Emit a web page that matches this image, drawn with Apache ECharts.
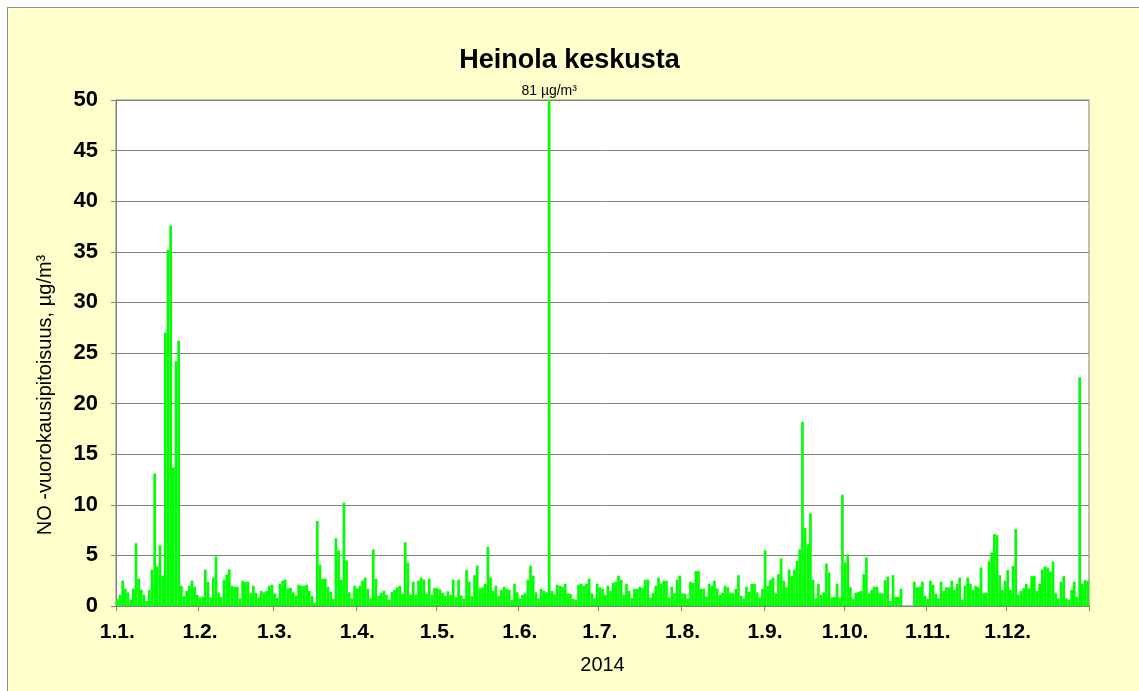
<!DOCTYPE html>
<html><head><meta charset="utf-8">
<script src="https://cdn.jsdelivr.net/npm/echarts@6/dist/echarts.min.js"></script>
<style>
html,body{margin:0;padding:0;background:#fff;overflow:hidden;}
#panel{position:absolute;left:7px;top:7px;width:1140px;height:690px;background:#FFFFCC;border:1px solid #8c8c8c;}
#chart{position:absolute;left:0;top:0;width:1139px;height:691px;}
</style></head><body>
<div id="panel"></div><div id="chart"></div>
<script>
// Daily NO concentrations (µg/m³), Heinola keskusta 2014
const jan = [0.7,1.1,2.5,1.7,1.35,0.6,1.7,6.2,2.7,1.6,1.1,0.5,1.6,3.6,13.1,3.9,6.0,3.0,27.0,35.2,37.6,13.7,24.2,26.2,2.0,1.0,1.5,2.0,2.5,1.9,1.1];
const feb = [0.85,0.9,3.6,2.4,0.85,2.8,4.9,1.3,0.9,2.6,3.1,3.6,2.0,1.9,1.9,0.75,2.5,2.4,2.4,1.25,2.0,1.3,0.85,1.5,1.35,1.5,2.0,2.1];
const mar = [1.25,0.8,2.2,2.5,2.6,1.75,1.8,1.35,1.05,2.1,2.0,2.0,2.1,1.5,1.0,0.3,8.4,4.1,2.7,2.7,1.9,1.4,0.7,6.7,5.5,2.6,10.2,4.5,1.35,0.75,2.0];
const apr = [1.75,2.0,2.5,2.8,1.7,0.75,5.6,2.7,1.0,1.3,1.5,1.1,0.6,1.4,1.6,1.85,2.0,1.2,6.3,4.3,1.1,2.4,1.1,2.5,2.8,2.6,1.2,2.7,1.1,1.8];
const may = [1.75,1.65,1.3,1.0,1.45,1.1,2.6,0.85,2.6,1.05,0.7,3.55,2.4,1.0,3.05,4.0,1.75,1.85,2.2,5.85,2.8,1.5,2.0,1.0,1.6,1.9,1.7,1.6,0.6,2.2,1.35];
const jun = [0.75,1.1,1.25,2.6,4.0,3.0,1.35,0.75,1.7,1.5,1.35,81,1.5,1.15,2.1,2.0,1.9,2.2,1.25,1.2,0.7,0.6,2.1,2.2,2.0,2.2,2.7,1.25,0.75,2.2];
const jul = [1.85,1.7,1.1,2.0,1.5,2.3,2.4,3.0,2.6,1.1,2.2,1.5,0.8,1.7,1.7,1.9,1.8,2.6,2.6,0.85,1.3,2.0,2.8,2.2,2.5,2.5,0.85,1.9,1.25,2.6,3.0];
const aug = [1.25,1.2,0.75,2.4,2.3,3.45,3.45,1.7,1.7,0.9,2.2,2.0,2.5,1.75,1.1,1.3,2.0,1.85,1.3,1.25,1.7,3.05,1.0,0.7,1.9,1.4,2.2,2.2,1.35,0.85,1.7];
const sep = [5.5,2.0,2.6,2.8,1.25,3.15,4.7,2.5,1.85,3.6,2.95,3.6,4.45,5.6,18.2,7.7,6.1,9.15,2.6,0.75,2.2,1.1,1.35,4.2,3.3,0.85,0.9,2.2,0.85,11.0];
const oct = [4.3,5.1,1.85,0.7,1.3,1.4,1.5,3.15,4.8,1.25,1.6,1.9,1.9,1.25,1.25,2.55,2.9,0.5,3.05,0.9,0.9,1.7,null,null,null,null,2.4,1.85,1.9,2.4,1.0];
const nov = [0.7,2.5,2.1,1.2,0.75,2.4,1.5,1.85,1.85,2.5,1.6,2.2,2.8,0.6,2.0,2.8,2.2,1.6,2.0,1.85,3.8,1.25,1.3,4.4,5.3,7.1,7.0,3.05,1.6,2.5];
const dec = [3.55,1.6,3.95,7.6,1.1,1.5,1.75,2.2,1.75,2.95,2.95,1.5,2.2,3.6,3.9,3.8,3.4,4.4,1.25,0.75,2.4,2.95,0.75,0.6,1.6,2.4,0.9,22.6,2.2,2.55,2.5];

const tickLabels = ['1.1.','1.2.','1.3.','1.4.','1.5.','1.6.','1.7.','1.8.','1.9.','1.10.','1.11.','1.12.'];
const yTicks = [0,5,10,15,20,25,30,35,40,45,50];
const yearLabel = '2014';
const titleText = 'Heinola keskusta';
const yName = 'NO -vuorokausipitoisuus, µg/m³';
const unit = 'µg/m³';

const months = [jan,feb,mar,apr,may,jun,jul,aug,sep,oct,nov,dec];
const categories = [];
const values = [];
months.forEach((arr, m) => arr.forEach((v, d) => {
  categories.push((d + 1) + '.' + (m + 1) + '.');
  values.push(v);
}));
const yMax = yTicks[yTicks.length - 1];
let peakIndex = 0;
values.forEach((v, i) => { if (v != null && v > values[peakIndex]) peakIndex = i; });
const peakValue = values[peakIndex];

const FONT = 'Liberation Sans, Arial, sans-serif';
const chart = echarts.init(document.getElementById('chart'), null, {renderer: 'canvas'});
const isTick = (i, v) => tickLabels.indexOf(v) >= 0;

chart.setOption({
  backgroundColor: 'transparent',
  animation: false,
  title: {
    text: titleText, left: 'center', top: 42,
    textStyle: {fontFamily: FONT, fontSize: 27, fontWeight: 'bold', color: '#000'}
  },
  grid: {
    left: 116, right: 50, top: 100, bottom: 85,
    show: true, backgroundColor: '#ffffff', borderColor: '#808080', borderWidth: 1
  },
  xAxis: {
    type: 'category', data: categories, boundaryGap: true,
    name: yearLabel, nameLocation: 'middle', nameGap: 49,
    nameTextStyle: {fontFamily: FONT, fontSize: 20, color: '#000'},
    axisLine: {show: true, lineStyle: {color: '#808080', width: 1}},
    axisTick: {show: true, interval: isTick, length: 5, lineStyle: {color: '#808080'}},
    axisLabel: {interval: isTick, margin: 16, fontFamily: FONT, fontSize: 21, fontWeight: 'bold', color: '#000'},
    splitLine: {show: false}
  },
  yAxis: {
    type: 'value', min: 0, max: yMax, interval: yTicks[1] - yTicks[0],
    axisLine: {show: true, lineStyle: {color: '#808080', width: 1}},
    axisTick: {show: true, length: 5, lineStyle: {color: '#808080'}},
    axisLabel: {margin: 18, fontFamily: FONT, fontSize: 22, fontWeight: 'bold', color: '#000'},
    splitLine: {show: true, lineStyle: {color: '#808080', width: 1}}
  },
  graphic: [{
    type: 'text', x: 45, y: 395, rotation: Math.PI / 2,
    style: {text: yName, fontFamily: FONT, fontSize: 20, fill: '#000', align: 'center', verticalAlign: 'middle'}
  }],
  series: [{
    type: 'bar', data: values, clip: true,
    barCategoryGap: '0%',
    itemStyle: {color: '#00ff00'},
    markPoint: {
      symbol: 'circle', symbolSize: 1,
      itemStyle: {color: 'rgba(0,0,0,0)'},
      label: {show: true, position: 'top', distance: 1, formatter: peakValue + ' ' + unit,
        fontFamily: FONT, fontSize: 14, color: '#000'},
      data: [{coord: [categories[peakIndex], yMax], value: peakValue}]
    }
  }]
});
</script>
</body></html>
